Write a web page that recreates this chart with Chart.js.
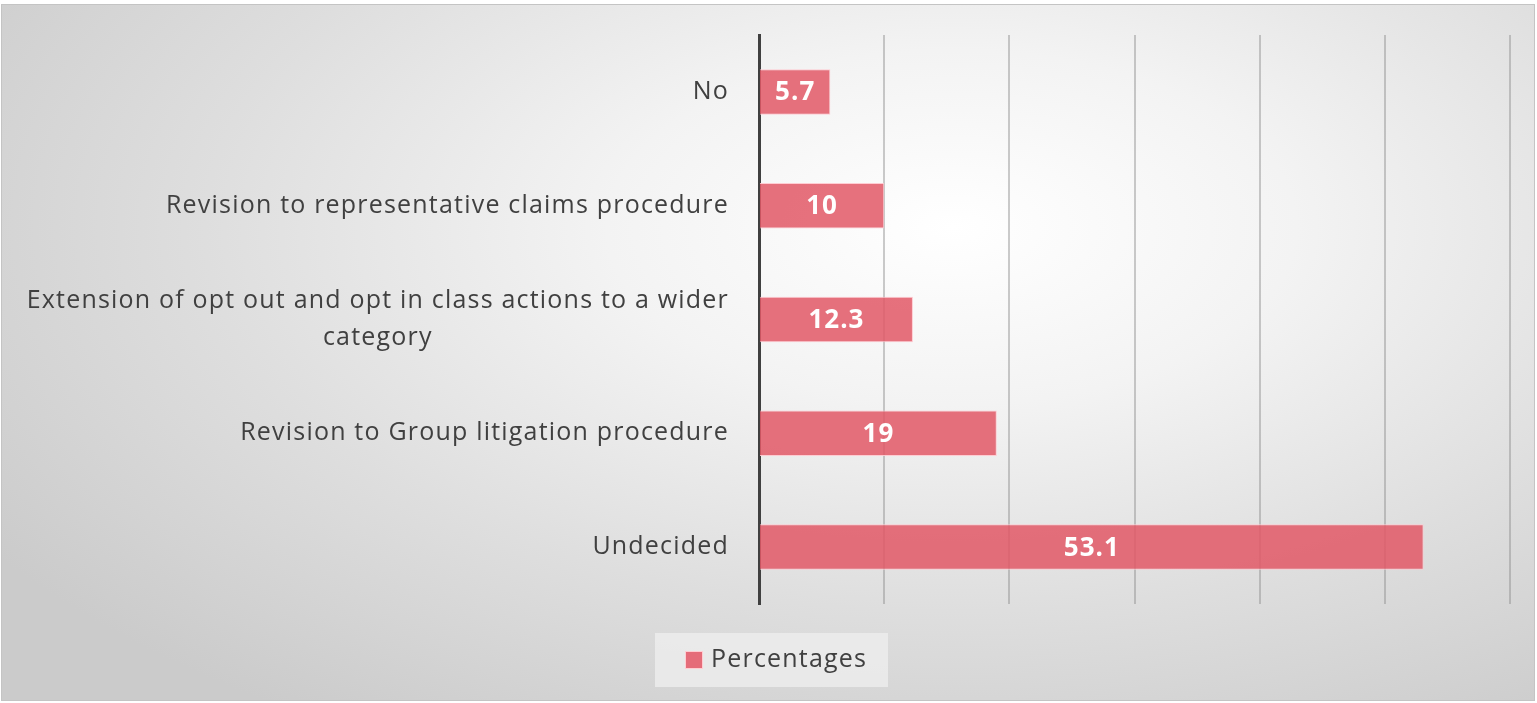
<!DOCTYPE html>
<html>
<head>
<meta charset="utf-8">
<script src="https://cdn.jsdelivr.net/npm/chart.js@4"></script>
<style>
  html, body { margin: 0; padding: 0; background: #fff; }
  #frame {
    position: absolute; left: 1px; top: 4px; width: 1532px; height: 695px;
    border: 1px solid #c4c4c4;
    background: radial-gradient(ellipse 75% 85% at 62% 32%, #ffffff 0%, #f3f3f3 30%, #dedede 65%, #cbcbcb 100%);
  }
  #wrap { position: absolute; left: -1px; top: -4px; width: 1537px; height: 703px; }
</style>
</head>
<body>
<div id="frame"><div id="wrap"><canvas id="chart" width="1537" height="703"></canvas></div></div>
<script>
// data
const categories = [
  ['No'],
  ['Revision to representative claims procedure'],
  ['Extension of opt out and opt in class actions to a wider', 'category'],
  ['Revision to Group litigation procedure'],
  ['Undecided']
]
const percentages = [5.7, 10, 12.3, 19, 53.1]
const seriesName = 'Percentages'

const labelFont = '25px "Open Sans", sans-serif'
const textColor = '#404040'

// category labels drawn left of the axis (multi-line centred like the original)
const yLabels = {
  id: 'yLabels',
  afterDraw(chart) {
    const { ctx, scales: { y }, chartArea } = chart
    ctx.save()
    ctx.font = labelFont
    ctx.letterSpacing = '1.2px'
    ctx.fillStyle = textColor
    ctx.textBaseline = 'middle'
    const right = chartArea.left - 30
    const lh = 37
    categories.forEach((lines, i) => {
      const cy = y.getPixelForValue(i)
      const w = Math.max(...lines.map(l => ctx.measureText(l).width))
      const cx = right - w / 2
      ctx.textAlign = 'center'
      lines.forEach((l, k) => {
        ctx.fillText(l, cx, cy + (k - (lines.length - 1) / 2) * lh)
      })
    })
    ctx.restore()
  }
}

// values inside bars
const barValues = {
  id: 'barValues',
  afterDatasetsDraw(chart) {
    const { ctx } = chart
    const meta = chart.getDatasetMeta(0)
    ctx.save()
    ctx.font = 'bold 26px "Open Sans", sans-serif'
    ctx.letterSpacing = '1px'
    ctx.fillStyle = '#ffffff'
    ctx.textAlign = 'center'
    ctx.textBaseline = 'middle'
    meta.data.forEach((bar, i) => {
      const x = (bar.x + bar.base) / 2
      ctx.fillText(String(percentages[i]), x, bar.y + 1)
    })
    ctx.restore()
  }
}

// legend box in the bottom
const legendBox = {
  id: 'legendBox',
  afterDraw(chart) {
    const { ctx } = chart
    ctx.save()
    ctx.fillStyle = 'rgba(235,235,235,0.9)'
    ctx.fillRect(654, 632, 233, 54)
    ctx.fillStyle = 'rgba(228,90,105,0.88)'
    ctx.strokeStyle = 'rgba(255,205,210,1)'
    ctx.lineWidth = 1
    ctx.fillRect(684.5, 650.5, 17, 17)
    ctx.strokeRect(684.5, 650.5, 17, 17)
    ctx.font = labelFont
    ctx.letterSpacing = '1.2px'
    ctx.fillStyle = textColor
    ctx.textBaseline = 'middle'
    ctx.textAlign = 'left'
    ctx.fillText(seriesName, 710, 659)
    ctx.restore()
  }
}

new Chart(document.getElementById('chart'), {
  type: 'bar',
  data: {
    labels: categories.map(c => c.join(' ')),
    datasets: [{
      label: seriesName,
      data: percentages,
      backgroundColor: 'rgba(226,88,102,0.85)',
      borderColor: 'rgba(255,200,206,0.9)',
      borderWidth: 1,
      categoryPercentage: 1,
      barPercentage: 0.4
    }]
  },
  options: {
    indexAxis: 'y',
    responsive: false,
    animation: false,
    layout: { padding: { left: 758, right: 28, top: 34, bottom: 100 } },
    scales: {
      x: {
        min: 0, max: 60,
        ticks: { display: false, stepSize: 10 },
        grid: { color: 'rgba(140,140,140,0.45)', lineWidth: 2, drawTicks: false },
        border: { display: false }
      },
      y: {
        ticks: { display: false },
        grid: { display: false, drawTicks: false },
        border: { color: '#404040', width: 3 }
      }
    },
    plugins: {
      legend: { display: false },
      tooltip: { enabled: false }
    }
  },
  plugins: [yLabels, barValues, legendBox]
})
</script>
</body>
</html>
